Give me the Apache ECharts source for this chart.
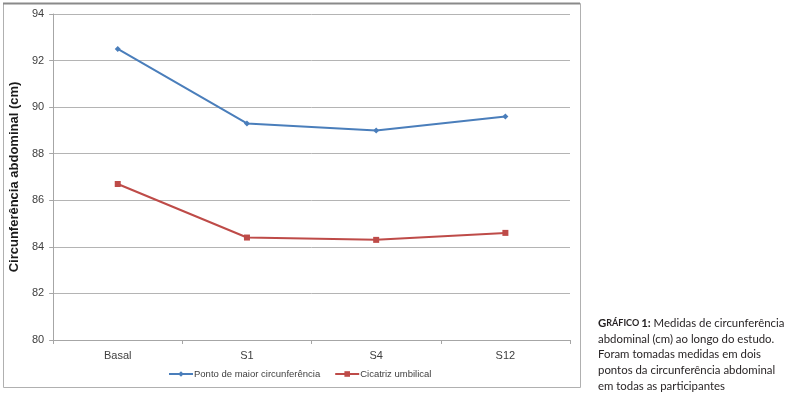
<!DOCTYPE html>
<html>
<head>
<meta charset="utf-8">
<script src="https://cdn.jsdelivr.net/npm/echarts@6/dist/echarts.min.js"></script>
<style>
html,body{margin:0;padding:0;background:#fff;}
#c{width:785px;height:394px;}
</style>
</head>
<body>
<div id="c"></div>
<script>
var categories = ['Basal', 'S1', 'S4', 'S12'];
var pontoMaior = [92.5, 89.3, 89.0, 89.6];
var cicatriz = [86.7, 84.4, 84.3, 84.6];
var seriesNames = ['Ponto de maior circunferência', 'Cicatriz umbilical'];
var yAxisTitle = 'Circunferência abdominal (cm)';
var captionLines = [
  '{g|G}{sc|RÁFICO}{g|1:} Medidas de circunferência',
  'abdominal (cm) ao longo do estudo.',
  'Foram tomadas medidas em dois',
  'pontos da circunferência abdominal',
  'em todas as participantes'
];

var chart = echarts.init(document.getElementById('c'), null, {renderer: 'canvas'});
var labelColor = '#404040';
var font = '"Liberation Sans", "DejaVu Sans", sans-serif';
var capFont = 'Lato, "Open Sans", sans-serif';

var captionGraphics = captionLines.map(function (t, i) {
  return {
    type: 'text',
    left: 598,
    top: 318 + i * 15.6,
    style: {
      text: t,
      fill: '#231f20',
      font: '11.4px ' + capFont,
      rich: {
        g: {fontWeight: 'bold', fontSize: 11.4, fontFamily: capFont, fill: '#231f20'},
        sc: {fontWeight: 'bold', fontSize: 9, fontFamily: capFont, fill: '#231f20', padding: [0, 2, 0, 0]}
      }
    }
  };
});

chart.setOption({
  animation: false,
  backgroundColor: '#fff',
  grid: {left: 50, right: 215, top: 14, bottom: 54, containLabel: false},
  xAxis: {
    type: 'category',
    data: categories,
    boundaryGap: true,
    axisLine: {lineStyle: {color: '#a6a6a6', width: 1}},
    axisTick: {show: true, length: 4, lineStyle: {color: '#a6a6a6'}},
    axisLabel: {color: labelColor, fontSize: 11, fontFamily: font, margin: 10}
  },
  yAxis: {
    type: 'value',
    min: 80, max: 94, interval: 2,
    name: yAxisTitle,
    nameLocation: 'middle',
    nameGap: 32,
    nameTextStyle: {color: '#1a1a1a', fontSize: 13, fontWeight: 'bold', fontFamily: font},
    axisLine: {show: true, lineStyle: {color: '#a6a6a6'}},
    axisTick: {show: true, length: 4, lineStyle: {color: '#a6a6a6'}},
    axisLabel: {color: labelColor, fontSize: 11, fontFamily: font, margin: 9},
    splitLine: {show: true, lineStyle: {color: '#b4b4b4', width: 1}}
  },
  legend: {
    bottom: 10,
    left: 163,
    itemGap: 14,
    itemWidth: 24,
    itemHeight: 7,
    textStyle: {color: labelColor, fontSize: 9.5, fontFamily: font, padding: [0, 0, 0, -4]},
    data: seriesNames
  },
  series: [
    {
      name: seriesNames[0],
      type: 'line',
      data: pontoMaior,
      symbol: 'diamond',
      symbolSize: 6,
      lineStyle: {color: '#4a7ebb', width: 2},
      itemStyle: {color: '#4a7ebb'}
    },
    {
      name: seriesNames[1],
      type: 'line',
      data: cicatriz,
      symbol: 'rect',
      symbolSize: 6,
      lineStyle: {color: '#be4b48', width: 2},
      itemStyle: {color: '#be4b48'}
    }
  ],
  graphic: [
    {
      type: 'rect',
      shape: {x: 3.5, y: 3.5, width: 577, height: 384},
      style: {fill: 'none', stroke: '#b0b0b0', lineWidth: 1},
      silent: true,
      z: -1
    },
    {
      type: 'line',
      shape: {x1: 3, y1: 3.5, x2: 580, y2: 3.5},
      style: {stroke: '#8a8a8a', lineWidth: 2},
      silent: true
    }
  ].concat(captionGraphics)
});
</script>
</body>
</html>
